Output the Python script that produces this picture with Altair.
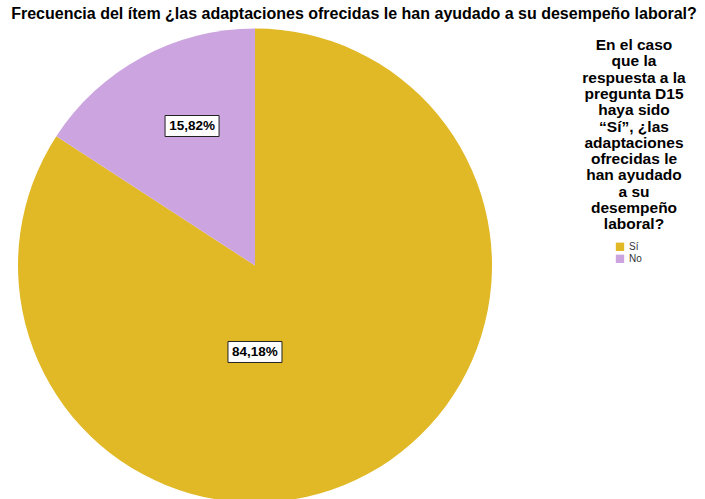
import altair as alt
import pandas as pd

# ---- data ----
categories = ["Sí", "No"]
percentages = [84.18, 15.82]
pct_labels = ["84,18%", "15,82%"]
slice_order = [0, 1]
colors = ["#E1B826", "#CCA4E0"]

legend_title = ["En el caso", "que la", "respuesta a la", "pregunta D15",
                "haya sido", "\u201cSí\u201d, ¿las", "adaptaciones", "ofrecidas le",
                "han ayudado", "a su", "desempeño", "laboral?"]
chart_title = "Frecuencia del ítem ¿las adaptaciones ofrecidas le han ayudado a su desempeño laboral?"

df = pd.DataFrame({"cat": categories, "pct": percentages,
                   "label": pct_labels, "ord": slice_order})

FONT = "Liberation Sans"
W, H = 474, 467
R = 237

xs = alt.Scale(domain=[-W / 2, W / 2], nice=False, zero=False)
ys = alt.Scale(domain=[-H / 2, H / 2], nice=False, zero=False)

base = alt.Chart(df)

pie = base.mark_arc(outerRadius=R).encode(
    theta=alt.Theta("pct:Q", stack=True),
    color=alt.Color(
        "cat:N",
        scale=alt.Scale(domain=categories, range=colors),
        legend=alt.Legend(
            title=legend_title, orient="none", legendX=564, legendY=6,
            titleFont=FONT, titleFontSize=15.5, titleFontWeight="bold",
            titleAlign="center", titleAnchor="middle", titleLineHeight=16.3,
            titleColor="black", titlePadding=9,
            symbolType="square", symbolSize=70, symbolStrokeWidth=0,
            symbolOffset=-12, labelFont=FONT, labelFontSize=10,
            labelColor="#333333", rowPadding=2,
        ),
    ),
    order=alt.Order("ord:Q"),
)

box_path = "M-1,-0.389H1V0.389H-1Z"


def label_layer(cat, r, xoff, yoff):
    b = (
        base.transform_window(cum="sum(pct)", sort=[alt.SortField("ord")], frame=[None, 0])
        .transform_calculate(mid="2*PI*(datum.cum - datum.pct/2)/100")
        .transform_filter(alt.datum.cat == cat)
        .transform_calculate(lx=f"{r}*sin(datum.mid)", ly=f"{r}*cos(datum.mid)")
    )
    enc = dict(x=alt.X("lx:Q", scale=xs, axis=None),
               y=alt.Y("ly:Q", scale=ys, axis=None))
    box = b.mark_point(shape=box_path, size=2916, filled=True, fill="white",
                       stroke="#222222", strokeWidth=1, opacity=1,
                       xOffset=xoff, yOffset=yoff).encode(**enc)
    txt = b.mark_text(font=FONT, fontSize=13.5, fontWeight="bold", color="black",
                      align="center", baseline="middle",
                      xOffset=xoff, yOffset=yoff).encode(text="label:N", **enc)
    return box + txt


chart = alt.layer(
    pie,
    label_layer("Sí", 87, -41.5, 10),
    label_layer("No", 153, 10, -5),
).properties(
    width=W, height=H,
    title=alt.TitleParams(text=chart_title, font=FONT, fontSize=16, fontWeight="bold",
                          color="black", anchor="middle", frame="group", dx=99, offset=7),
    autosize=alt.AutoSizeParams(type="none"),
    padding={"left": 18, "top": 32, "right": 213, "bottom": 0},
    background="white",
).configure_view(stroke=None)

chart.save("out.html", embed_options={"renderer": "svg", "actions": False})
